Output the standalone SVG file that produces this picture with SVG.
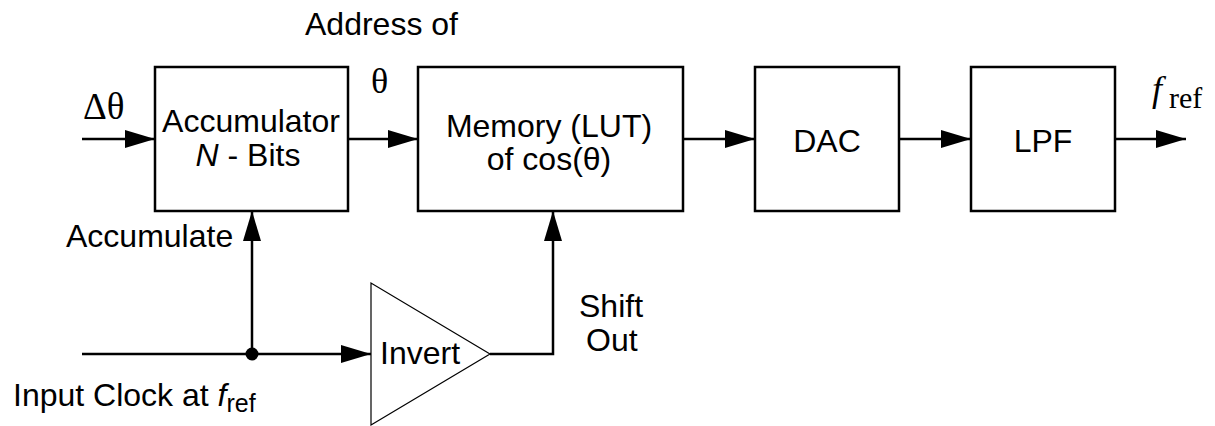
<svg xmlns="http://www.w3.org/2000/svg" width="1215" height="426" viewBox="0 0 1215 426">
  <style>
    .box { fill: #fff; stroke: #000; stroke-width: 2.5; }
    .tri { fill: #fff; stroke: #000; stroke-width: 1.2; }
    .wire { fill: none; stroke: #000; stroke-width: 2.5; }
    .sans { font-family: "Liberation Sans", Arial, sans-serif; font-size: 32px; fill: #000; }
    .serif { font-family: "Liberation Serif", "Times New Roman", serif; fill: #000; }
    .mid { text-anchor: middle; }
  </style>
  <defs>
    <marker id="arrow" markerUnits="userSpaceOnUse" markerWidth="30" markerHeight="18" refX="30" refY="9" orient="auto">
      <path d="M0,0 L30,9 L0,18 Z" fill="#000"/>
    </marker>
  </defs>

  <rect width="1215" height="426" fill="#fff"/>

  <!-- signal paths -->
  <g id="connectors">
    <line class="wire" x1="82" y1="139" x2="155" y2="139" marker-end="url(#arrow)"/>
    <line class="wire" x1="348" y1="139" x2="418" y2="139" marker-end="url(#arrow)"/>
    <line class="wire" x1="683" y1="139" x2="755" y2="139" marker-end="url(#arrow)"/>
    <line class="wire" x1="899" y1="139" x2="971" y2="139" marker-end="url(#arrow)"/>
    <line class="wire" x1="1115" y1="139" x2="1186" y2="139" marker-end="url(#arrow)"/>
    <line class="wire" x1="82" y1="354" x2="371" y2="354" marker-end="url(#arrow)"/>
    <line class="wire" x1="252" y1="354" x2="252" y2="211" marker-end="url(#arrow)"/>
    <polyline class="wire" points="490,354 553,354 553,211" marker-end="url(#arrow)"/>
    <circle cx="252" cy="354" r="6.5" fill="#000"/>
  </g>

  <g id="accumulator">
    <rect class="box" x="155" y="67" width="193" height="144"/>
    <text class="sans mid" x="251" y="132">Accumulator</text>
    <text class="sans mid" x="248" y="166"><tspan font-style="italic">N</tspan> - Bits</text>
  </g>

  <g id="memory">
    <rect class="box" x="418" y="67" width="265" height="144"/>
    <text class="sans mid" x="549" y="137">Memory (LUT)</text>
    <text class="sans mid" x="549" y="170">of cos(θ)</text>
  </g>

  <g id="dac">
    <rect class="box" x="755" y="67" width="144" height="144"/>
    <text class="sans mid" x="827" y="152">DAC</text>
  </g>

  <g id="lpf">
    <rect class="box" x="971" y="67" width="144" height="144"/>
    <text class="sans mid" x="1043" y="152">LPF</text>
  </g>

  <g id="invert">
    <polygon class="tri" points="371,283 371,425 490,354"/>
    <text class="sans" x="380" y="364">Invert</text>
  </g>

  <!-- labels -->
  <g id="labels">
    <text class="sans" x="305" y="35">Address of</text>
    <text class="serif" x="371" y="93" font-size="36">θ</text>
    <text class="serif" x="83" y="119" font-size="37">Δθ</text>
    <text class="serif" x="1152" y="101" font-size="36" font-style="italic">f</text>
    <text class="serif" x="1169" y="108" font-size="30">ref</text>
    <text class="sans" x="66" y="247">Accumulate</text>
    <text class="sans" x="579" y="317">Shift</text>
    <text class="sans" x="586" y="351">Out</text>
    <text class="sans" x="13" y="406">Input Clock at <tspan font-style="italic">f</tspan><tspan font-size="25" dy="6">ref</tspan></text>
  </g>
</svg>
